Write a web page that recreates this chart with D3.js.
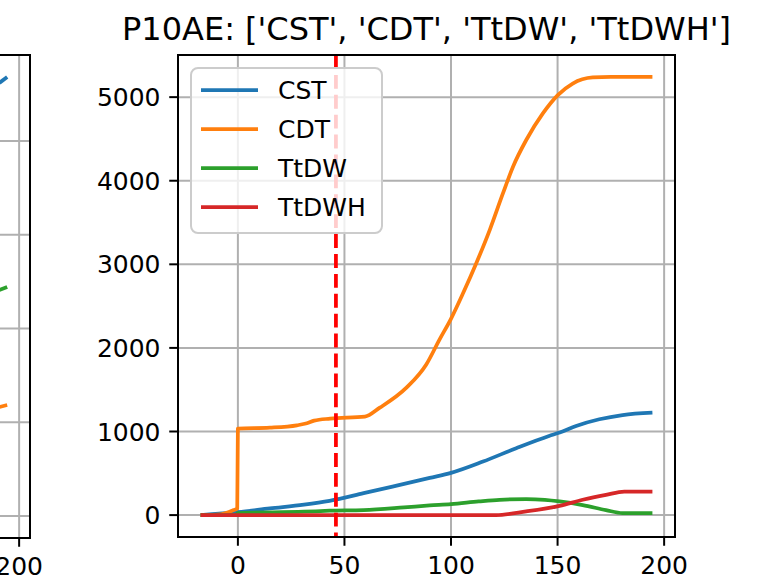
<!DOCTYPE html>
<html>
<head>
<meta charset="utf-8">
<script src="https://cdn.jsdelivr.net/npm/d3@7"></script>
<style>
  body { margin: 0; background: #fff; }
  text { font-family: "DejaVu Sans", sans-serif; fill: #000; }
</style>
</head>
<body>
<div id="viz"></div>
<script>
// right panel series
const cstX  = [-17.5, 0, 15, 31, 43, 59, 74, 90, 100, 115, 130.6, 146, 151, 158.7, 169.6, 180.5, 194.5]
const cstY  = [0, 35, 80, 125, 171, 262, 350, 445, 505, 640, 800, 946, 987, 1066, 1146, 1197, 1225]

const cdtX  = [-17.5, -8, -2, -0.3, 0, 15, 27.7, 32.4, 35.8, 43.3, 59.6, 66.6, 79.1, 88.4, 94.6, 99.8, 105.7, 111.9, 118.2, 124.4, 129.1, 135.3, 143.1, 150.1, 157.1, 166.5, 175, 194.5]
const cdtY  = [0, 10, 60, 80, 1035, 1046, 1074, 1098, 1130, 1154, 1178, 1285, 1524, 1802, 2100, 2339, 2657, 3016, 3413, 3851, 4168, 4487, 4805, 5024, 5163, 5235, 5242, 5242]

const tdwX  = [-17.5, -1, 0, 31, 43, 59, 78, 90, 100, 113, 122.8, 135.3, 144, 150.9, 161.8, 172.7, 180.5, 194.5]
const tdwY  = [0, 0, 25, 40, 52, 60, 92, 115, 130, 163, 183, 191, 182, 163, 119, 60, 24, 24]

const tdwhX = [-17.5, 121, 135.3, 150.9, 161.8, 172.7, 181.3, 194.5]
const tdwhY = [0, 0, 44, 111, 183, 242, 282, 282]

const cutoff = 46

const names  = ["CST", "CDT", "TtDW", "TtDWH"]
const colors = ["#1f77b4", "#ff7f0e", "#2ca02c", "#d62728"]
const title  = "P10AE: ['CST', 'CDT', 'TtDW', 'TtDWH']"
const xTicks = [0, 50, 100, 150, 200]
const yTicks = [0, 1000, 2000, 3000, 4000, 5000]

// tail of the neighbouring panel that peeks in on the left
const leftX    = [190.7, 194.4]
const leftCST  = [4619, 4683]
const leftCDT  = [1163, 1184]
const leftTDW  = [2411, 2443]
const leftYTicks = [0, 1000, 2000, 3000, 4000]

const W = 760, H = 585
const svg = d3.select("#viz").append("svg").attr("width", W).attr("height", H)

const series = [[cstX, cstY], [cdtX, cdtY], [tdwX, tdwY], [tdwhX, tdwhY]]
  .map(([xs, ys], k) => ({name: names[k], color: colors[k], pts: xs.map((x, i) => [x, ys[i]])}))

// matplotlib-style 5% margins
let pad = (lo, hi) => [lo - (hi - lo) * 0.05, hi + (hi - lo) * 0.05]

const allX = series.flatMap(s => s.pts.map(p => p[0]))
const allY = series.flatMap(s => s.pts.map(p => p[1]))

const box = {l: 178, r: 675, t: 55, b: 537}
const x = d3.scaleLinear().domain(pad(d3.min(allX), d3.max(allX))).range([box.l, box.r])
const y = d3.scaleLinear().domain(pad(0, d3.max(allY))).range([box.b, box.t])

const lw = 3.75, thin = 2, grid = "#b0b0b0"

let drawAxesFrame = (g, bx) => {
  g.append("rect")
    .attr("x", bx.l).attr("y", bx.t)
    .attr("width", bx.r - bx.l).attr("height", bx.b - bx.t)
    .attr("fill", "none").attr("stroke", "#000").attr("stroke-width", thin)
}

// ---------- left (cut-off) panel ----------
const lbox = {l: -467, r: 30, t: 55, b: 538}
const lx = d3.scaleLinear().domain(x.domain()).range([lbox.l, lbox.r])
const ly = d3.scaleLinear().domain(pad(0, d3.max(leftCST))).range([lbox.b, lbox.t])

const defs = svg.append("defs")
defs.append("clipPath").attr("id", "clipL").append("rect")
  .attr("x", lbox.l).attr("y", lbox.t).attr("width", lbox.r - lbox.l).attr("height", lbox.b - lbox.t)
defs.append("clipPath").attr("id", "clipR").append("rect")
  .attr("x", box.l).attr("y", box.t).attr("width", box.r - box.l).attr("height", box.b - box.t)

const gl = svg.append("g")
const glIn = gl.append("g").attr("clip-path", "url(#clipL)")
glIn.selectAll(".vg").data(xTicks).enter().append("line")
  .attr("x1", d => lx(d)).attr("x2", d => lx(d)).attr("y1", lbox.t).attr("y2", lbox.b)
  .attr("stroke", grid).attr("stroke-width", thin)
glIn.selectAll(".hg").data(leftYTicks).enter().append("line")
  .attr("x1", lbox.l).attr("x2", lbox.r).attr("y1", d => ly(d)).attr("y2", d => ly(d))
  .attr("stroke", grid).attr("stroke-width", thin)

const leftLine = d3.line().x(d => lx(d[0])).y(d => ly(d[1]))
;[[leftCST, colors[0]], [leftCDT, colors[1]], [leftTDW, colors[2]]].forEach(([vals, c]) => {
  glIn.append("path")
    .attr("d", leftLine(leftX.map((v, i) => [v, vals[i]])))
    .attr("fill", "none").attr("stroke", c).attr("stroke-width", lw)
})
drawAxesFrame(gl, lbox)
gl.selectAll(".xt").data(xTicks).enter().append("line")
  .attr("x1", d => lx(d)).attr("x2", d => lx(d)).attr("y1", lbox.b).attr("y2", lbox.b + 8.75)
  .attr("stroke", "#000").attr("stroke-width", thin)
gl.selectAll(".xl").data(xTicks).enter().append("text")
  .attr("x", d => lx(d)).attr("y", lbox.b + 17.5 + 19)
  .attr("text-anchor", "middle").attr("font-size", 25)
  .text(d => d)

// ---------- main panel ----------
const g = svg.append("g")
const gIn = g.append("g").attr("clip-path", "url(#clipR)")

gIn.selectAll(".vg").data(xTicks).enter().append("line")
  .attr("x1", d => x(d)).attr("x2", d => x(d)).attr("y1", box.t).attr("y2", box.b)
  .attr("stroke", grid).attr("stroke-width", thin)
gIn.selectAll(".hg").data(yTicks).enter().append("line")
  .attr("x1", box.l).attr("x2", box.r).attr("y1", d => y(d)).attr("y2", d => y(d))
  .attr("stroke", grid).attr("stroke-width", thin)

const line = d3.line()
  .x(d => x(d[0]))
  .y(d => y(d[1]))
  .curve(d3.curveMonotoneX)

gIn.selectAll(".series").data(series).enter().append("path")
  .attr("class", "series")
  .attr("d", d => line(d.pts))
  .attr("fill", "none")
  .attr("stroke", d => d.color)
  .attr("stroke-width", lw)
  .attr("stroke-linejoin", "round")

gIn.append("line")
  .attr("x1", x(cutoff)).attr("x2", x(cutoff)).attr("y1", box.t).attr("y2", box.b)
  .attr("stroke", "#ff0000").attr("stroke-width", lw)
  .attr("stroke-dasharray", "13.9,6")

drawAxesFrame(g, box)

// ticks
g.selectAll(".xt").data(xTicks).enter().append("line")
  .attr("x1", d => x(d)).attr("x2", d => x(d)).attr("y1", box.b).attr("y2", box.b + 8.75)
  .attr("stroke", "#000").attr("stroke-width", thin)
g.selectAll(".xl").data(xTicks).enter().append("text")
  .attr("x", d => x(d)).attr("y", box.b + 17.5 + 19)
  .attr("text-anchor", "middle").attr("font-size", 25)
  .text(d => d)
g.selectAll(".yt").data(yTicks).enter().append("line")
  .attr("x1", box.l - 8.75).attr("x2", box.l).attr("y1", d => y(d)).attr("y2", d => y(d))
  .attr("stroke", "#000").attr("stroke-width", thin)
g.selectAll(".yl").data(yTicks).enter().append("text")
  .attr("x", box.l - 17.5).attr("y", d => y(d))
  .attr("dy", "0.36em")
  .attr("text-anchor", "end").attr("font-size", 25)
  .text(d => d)

// title
svg.append("text")
  .attr("x", (box.l + box.r) / 2).attr("y", box.t - 15)
  .attr("text-anchor", "middle").attr("font-size", 32)
  .text(title)

// legend
const leg = g.append("g").attr("transform", `translate(${box.l + 13}, ${box.t + 13})`)
leg.append("rect")
  .attr("width", 191).attr("height", 165).attr("rx", 7)
  .attr("fill", "#fff").attr("fill-opacity", 0.8)
  .attr("stroke", "#cccccc").attr("stroke-width", 2)
const item = leg.selectAll(".item").data(series).enter().append("g")
  .attr("transform", (d, i) => `translate(0, ${22 + i * 39})`)
item.append("line")
  .attr("x1", 10).attr("x2", 67)
  .attr("stroke", d => d.color).attr("stroke-width", lw)
item.append("text")
  .attr("x", 87).attr("dy", "0.36em").attr("font-size", 25)
  .text(d => d.name)
</script>
</body>
</html>
